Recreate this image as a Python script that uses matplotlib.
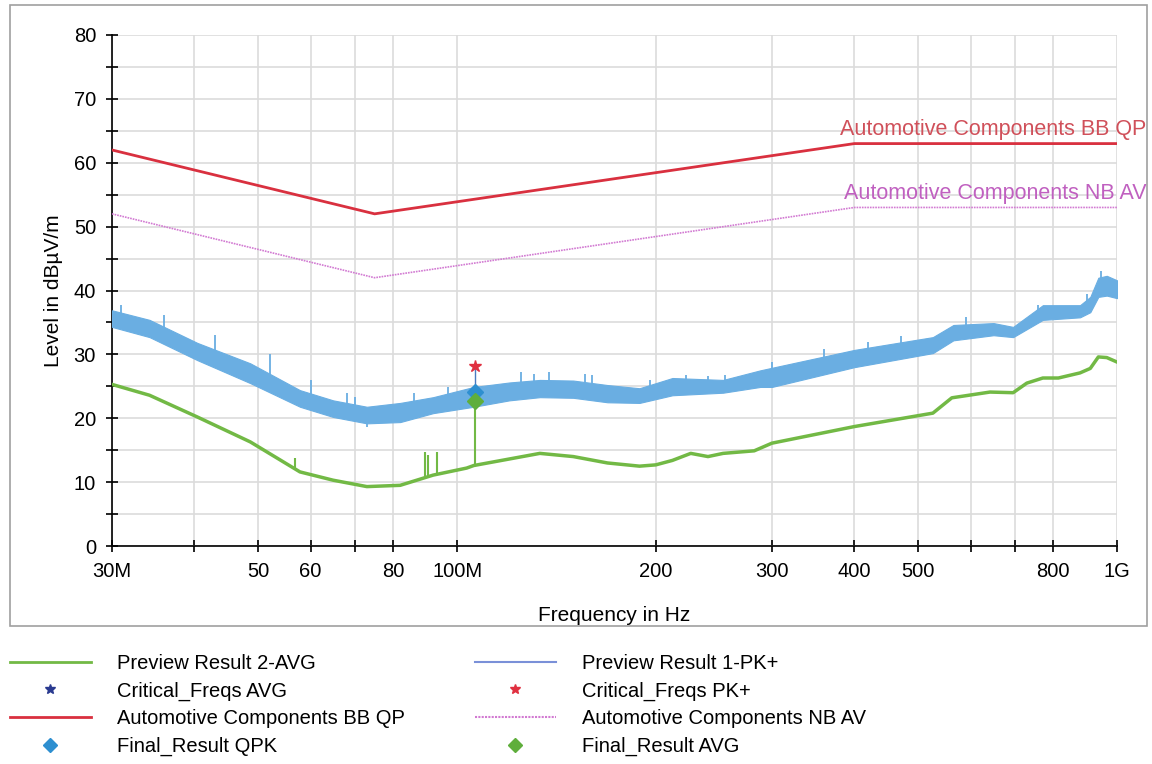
import numpy as np
import matplotlib.pyplot as plt
from matplotlib.lines import Line2D
from matplotlib.patches import Rectangle

plt.rcParams['font.family'] = ['Liberation Sans', 'DejaVu Sans']

# peak trace (Preview Result 1-PK+), read as a band: lower / upper edge in dBuV/m
pk_freq = [30, 34.2, 40.4, 48.6, 57.8, 64.9, 73, 82, 92, 106, 120, 133.5, 150, 169, 189,
           212, 253, 288, 300, 400, 526, 565, 650, 696, 772, 879, 911, 937, 965, 1000]
pk_low = [34.3, 32.7, 29.1, 25.5, 21.8, 20.2, 19.2, 19.4, 20.8, 21.8, 22.8, 23.3, 23.2, 22.5, 22.4,
          23.6, 24.0, 24.9, 24.9, 28.0, 30.2, 32.2, 33.0, 32.7, 35.4, 35.8, 36.6, 39.0, 39.2, 38.8]
pk_high = [36.9, 35.4, 31.8, 28.6, 24.4, 22.8, 21.8, 22.4, 23.3, 24.9, 25.6, 26.0, 25.9, 25.2, 24.7,
           26.3, 26.0, 27.5, 27.9, 30.7, 32.7, 34.6, 34.9, 34.3, 37.7, 37.7, 39.0, 42.0, 42.3, 41.6]

# narrow spikes sticking out of the peak band
pks_freq = [31, 36, 43, 52, 60, 68, 70, 73, 86, 97, 125, 131, 138, 156, 160, 196, 222, 240, 255,
            300, 360, 420, 470, 590, 760, 900, 945]
pks_bot = [35.0, 33.0, 28.5, 25.0, 22.0, 21.0, 20.5, 18.6, 21.0, 22.0, 24.0, 24.0, 24.0, 23.5, 23.5,
           23.0, 24.5, 24.5, 24.5, 26.0, 28.0, 29.5, 30.5, 33.0, 35.0, 36.5, 39.5]
pks_top = [37.8, 36.2, 33.0, 30.0, 26.0, 24.0, 23.3, 21.0, 24.0, 24.9, 27.2, 27.0, 27.2, 27.0, 26.8,
           26.0, 26.8, 26.6, 26.8, 28.8, 30.8, 32.0, 32.8, 35.8, 37.8, 39.5, 43.0]

# average trace (Preview Result 2-AVG)
av_freq = [30, 34.2, 40.4, 48.6, 57.8, 64.9, 73, 82, 92, 103.4, 106, 133.5, 150, 169, 189, 200,
           212, 226, 240, 253, 282, 300, 400, 526, 562, 642, 696, 730, 772, 815, 879, 911, 937,
           965, 1000]
av_level = [25.3, 23.6, 20.2, 16.3, 11.6, 10.3, 9.3, 9.5, 11.1, 12.2, 12.6, 14.5, 14.0, 13.0, 12.5,
            12.7, 13.4, 14.5, 14.0, 14.5, 14.9, 16.1, 18.7, 20.8, 23.2, 24.1, 24.0, 25.5, 26.3,
            26.3, 27.1, 27.8, 29.6, 29.5, 28.8]

# narrow spikes on the average trace
sp_freq = [56.8, 89.4, 90.5, 93.2, 106.5]
sp_base = [11.9, 10.8, 10.9, 11.2, 12.5]
sp_top = [13.8, 14.7, 14.3, 14.7, 22.7]

# limit lines
lim_freq = [30, 75, 400, 1000]
lim_bb_qp = [62, 52, 63, 63]
lim_nb_av = [52, 42, 53, 53]

# final / critical results
crit_freq = [106.5]
crit_pk = [28.2]
final_qpk = [24.1]
final_avg = [22.7]

c_blue = '#6aaee2'
c_green = '#72b945'
c_red = '#d9303f'
c_mag = '#d27ad2'

fig = plt.figure(figsize=(11.52, 7.64), dpi=100)
fig.patches.append(Rectangle((10 / 1152, 1 - 626 / 764), 1137 / 1152, 621 / 764,
                             transform=fig.transFigure, fill=False, ec='#a0a0a0', lw=1.2))
ax = fig.add_axes([112 / 1152, 1 - 546 / 764, 1005 / 1152, 511 / 764])
ax.set_xscale('log')
ax.set_xlim(30, 1000)
ax.set_ylim(0, 80)

ax.fill_between(pk_freq, pk_low, pk_high, color=c_blue, lw=0.8, ec=c_blue, zorder=3)
ax.vlines(pks_freq, pks_bot, pks_top, color=c_blue, lw=1.3, zorder=3)
ax.plot(av_freq, av_level, color=c_green, lw=2.5, zorder=4)
ax.vlines(sp_freq, sp_base, sp_top, color=c_green, lw=1.5, zorder=4)
ax.plot(lim_freq, lim_bb_qp, color=c_red, lw=2, zorder=5)
ax.plot(lim_freq, lim_nb_av, color=c_mag, lw=1.2, ls=(0, (1, 0.6)), zorder=5)
ax.vlines(crit_freq, final_qpk, crit_pk, color='#4a7ac0', lw=1, zorder=5)
ax.plot(crit_freq, crit_pk, '*', color='#e03040', ms=9, zorder=6)
ax.plot(crit_freq, final_qpk, 'D', color='#2e8fd0', ms=8, zorder=6)
ax.plot(crit_freq, final_avg, 'D', color='#5fae3c', ms=8, zorder=7)

ax.text(1108, 63.6, 'Automotive Components BB QP', color='#d0505a', fontsize=15.5,
        ha='right', va='bottom', clip_on=False)
ax.text(1108, 53.6, 'Automotive Components NB AV', color='#c060c0', fontsize=15.5,
        ha='right', va='bottom', clip_on=False)

xt = [30, 40, 50, 60, 70, 80, 100, 200, 300, 400, 500, 600, 700, 800, 1000]
xl = ['30M', '', '50', '60', '', '80', '100M', '200', '300', '400', '500', '', '', '800', '1G']
ax.set_xticks(xt)
ax.set_xticklabels(xl)
ax.xaxis.set_minor_locator(plt.NullLocator())
ax.set_yticks(range(0, 81, 5))
ax.set_yticklabels([str(v) if v % 10 == 0 else '' for v in range(0, 81, 5)])
ax.tick_params(direction='inout', length=9, width=1.2, labelsize=14.5, pad=7)
ax.grid(True, color='#dcdcdc', lw=1.2, zorder=0)
ax.set_axisbelow(True)
for s in ['top', 'right']:
    ax.spines[s].set_visible(False)
for s in ['left', 'bottom']:
    ax.spines[s].set_linewidth(1.2)
ax.set_ylabel('Level in dBµV/m', fontsize=15, labelpad=8)
ax.set_xlabel('Frequency in Hz', fontsize=15, labelpad=18)

h1 = [Line2D([], [], color=c_green, lw=2),
      Line2D([], [], color='#2a3a90', marker='*', ls='', ms=7),
      Line2D([], [], color=c_red, lw=2),
      Line2D([], [], color='#2e8fd0', marker='D', ls='', ms=7)]
l1 = ['Preview Result 2-AVG', 'Critical_Freqs AVG', 'Automotive Components BB QP', 'Final_Result QPK']
h2 = [Line2D([], [], color='#7a90d8', lw=1.5),
      Line2D([], [], color='#e03040', marker='*', ls='', ms=7),
      Line2D([], [], color=c_mag, lw=1.5, ls=(0, (1, 0.6))),
      Line2D([], [], color='#5fae3c', marker='D', ls='', ms=7)]
l2 = ['Preview Result 1-PK+', 'Critical_Freqs PK+', 'Automotive Components NB AV', 'Final_Result AVG']
kw = dict(frameon=False, fontsize=14.5, handlelength=4.0, handletextpad=1.3,
          labelspacing=0.42, borderaxespad=0, borderpad=0)
fig.legend(h1, l1, loc='upper left', bbox_to_anchor=(10 / 1152, 1 - 654 / 764), **kw)
fig.legend(h2, l2, loc='upper left', bbox_to_anchor=(475 / 1152, 1 - 654 / 764), **kw)

fig.savefig('out.png', dpi=100)
